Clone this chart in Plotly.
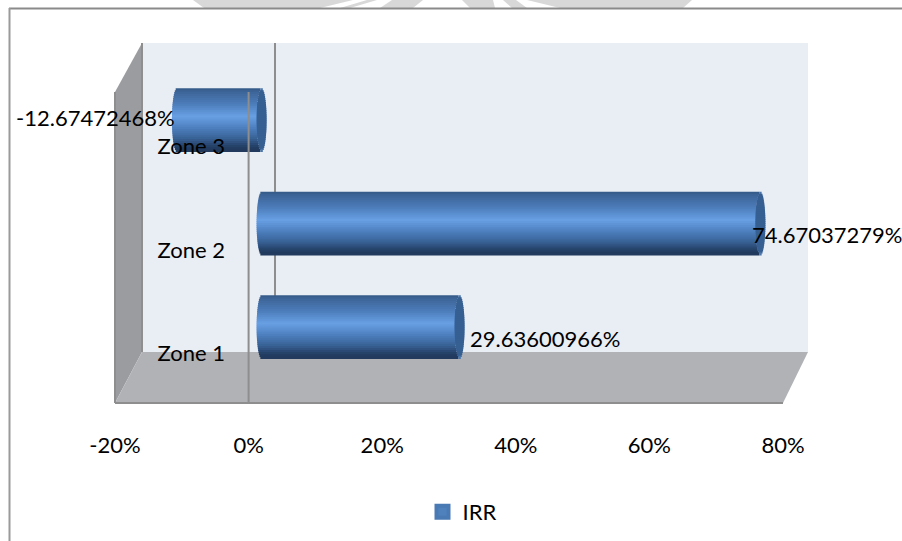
import numpy as np
import plotly.graph_objects as go

# Chart data
zones = ["Zone 1", "Zone 2", "Zone 3"]
irr_pct = [29.63600966, 74.67037279, -12.67472468]
irr_labels = ["29.63600966%", "74.67037279%", "-12.67472468%"]
axis_ticks = [-20, 0, 20, 40, 60, 80]

W, H = 902, 541
FONT = "Lato"
FONT_SIZE = 22


def px_x(v):
    return v / W


def px_y(v):
    return 1 - v / H


def poly(points, fill, line=None, width=0, layer="below"):
    # Closed polygon given in page pixels
    path = "M" + " L".join(f"{px_x(x):.5f},{px_y(y):.5f}" for x, y in points) + " Z"
    return dict(type="path", xref="paper", yref="paper", path=path, fillcolor=fill,
                line=dict(color=line or fill, width=width), layer=layer)


def seg(x0, y0, x1, y1, color="#8e8e8e", width=2, layer="below"):
    return dict(type="line", xref="paper", yref="paper", x0=px_x(x0), y0=px_y(y0),
                x1=px_x(x1), y1=px_y(y1), line=dict(color=color, width=width), layer=layer)


shapes = [
    # Faint seal showing above the chart frame
    poly([(193, 0), (204, 8), (320, 8), (353, 0)], "#d8d8d8"),
    poly([(340, 8), (350, 8), (377, 0), (367, 0)], "#d8d8d8"),
    poly([(380, 8), (413, 8), (423, 0), (392, 0)], "#d8d8d8"),
    poly([(462, 0), (470, 8), (495, 8), (493, 0)], "#d8d8d8"),
    poly([(503, 0), (512, 8), (527, 8), (516, 0)], "#d8d8d8"),
    poly([(527, 0), (560, 8), (683, 8), (692, 0)], "#d8d8d8"),
    # Chart frame (top and left)
    seg(9, 8.5, 902, 8.5, "#8a8a8a", 2),
    seg(9.5, 8, 9.5, 541, "#9a9a9a", 2),
    # 3D box: back wall, side wall, floor
    poly([(142, 43), (808, 43), (808, 352), (142, 352)], "#e9edf4"),
    poly([(115, 92), (142, 43), (142, 352), (115, 403)], "#9b9c9f"),
    poly([(142, 352), (808, 352), (783, 403), (115, 403)], "#b0b2b5"),
    seg(115, 92, 115, 403),
    seg(142, 43, 142, 352),
    # Zero line on the front plane, in front of the bars
    dict(type="line", xref="x3", yref="paper", x0=0, x1=0, y0=px_y(92), y1=px_y(403),
         line=dict(color="#8e8e8e", width=2), layer="above"),
]

# Vertical shading of the cylinders, top to bottom
stops = [0.0, 0.05, 0.25, 0.45, 0.62, 0.8, 0.93, 1.0]
stop_rgb = np.array([
    (52, 88, 134), (60, 100, 150), (76, 124, 186), (104, 160, 228),
    (80, 130, 194), (56, 98, 150), (36, 64, 102), (32, 56, 90),
], dtype=float)

N_STRIPS = 32
BAR_HEIGHT = 0.605       # in category units
CAP_HALF = 5 * 100 / 668  # cap half-width, axis units

fig = go.Figure()

# Keeps the back-wall plane in the figure so its zero gridline is drawn
fig.add_trace(go.Scatter(x=irr_pct, y=[0.5] * len(irr_pct), mode="none", xaxis="x", yaxis="y",
                         hoverinfo="skip", showlegend=False))

# Bar carrying the legend entry, hidden beneath the shaded strips
fig.add_trace(go.Bar(
    y=zones, x=[abs(v) for v in irr_pct], base=[min(v, 0) for v in irr_pct],
    orientation="h", width=0.3, name="IRR", xaxis="x2", yaxis="y2",
    marker=dict(color="#4f81bd", line=dict(color="#4a7ab4", width=4)),
    hoverinfo="skip", showlegend=True,
))

strip_h = BAR_HEIGHT / N_STRIPS
strip_w = strip_h * 1.6  # strips overlap downwards; the next one paints over the excess
for i in range(N_STRIPS):
    frac = (i + 0.5) / N_STRIPS
    rgb = [np.interp(frac, stops, stop_rgb[:, c]) for c in range(3)]
    color = f"rgb({rgb[0]:.0f},{rgb[1]:.0f},{rgb[2]:.0f})"
    t = 1 - 2 * frac
    half = CAP_HALF * np.sqrt(max(0.0, 1 - t * t))
    offset = t * BAR_HEIGHT / 2 + strip_h / 2 - strip_w

    lows = [min(v, 0) for v in irr_pct]
    highs = [max(v, 0) for v in irr_pct]
    # Cylinder body, with the rounded near end
    fig.add_trace(go.Bar(
        y=zones, x=[h - l for h, l in zip(highs, lows)], base=[l - half for l in lows],
        orientation="h", width=strip_w, offset=offset, xaxis="x2", yaxis="y2",
        marker=dict(color=color, line=dict(width=0)),
        hoverinfo="skip", showlegend=False,
    ))
    # Flat end cap of the cylinder
    cap_color = "#4a76ab" if abs(t) > 0.93 else "#365f92"
    fig.add_trace(go.Bar(
        y=zones, x=[2 * half] * len(zones), base=[h - half for h in highs],
        orientation="h", width=strip_w, offset=offset, xaxis="x2", yaxis="y2",
        marker=dict(color=cap_color, line=dict(width=0)),
        hoverinfo="skip", showlegend=False,
    ))

# Invisible trace that keeps the labelled axes alive above the bars
fig.add_trace(go.Scatter(x=irr_pct, y=zones, mode="none", xaxis="x3", yaxis="y3",
                         hoverinfo="skip", showlegend=False))

# Value labels sit beside the bar ends
label_pos = [
    dict(xanchor="left", xshift=3, yshift=-12),
    dict(xanchor="left", xshift=-15, yshift=-11),
    dict(xanchor="right", xshift=0, yshift=2),
]
annotations = [
    dict(x=v + (CAP_HALF if v > 0 else 0), y=z, xref="x2", yref="y2", text=t, showarrow=False,
         font=dict(family=FONT, size=FONT_SIZE, color="black"), **p)
    for v, z, t, p in zip(irr_pct, zones, irr_labels, label_pos)
]

fig.update_layout(
    width=W, height=H, margin=dict(l=0, r=0, t=0, b=0, autoexpand=False),
    paper_bgcolor="white", plot_bgcolor="rgba(0,0,0,0)",
    barmode="overlay", shapes=shapes, annotations=annotations,
    font=dict(family=FONT, size=FONT_SIZE, color="black"),
    # Back-wall plane: only the zero gridline shows
    xaxis=dict(domain=[px_x(142), px_x(808)], range=[-20, 80], anchor="y",
               tickvals=[0], showticklabels=False, ticks="", showgrid=True,
               gridcolor="#8e8e8e", gridwidth=2, zeroline=False),
    yaxis=dict(domain=[px_y(352), px_y(43)], range=[0, 1], anchor="x", visible=False),
    # Plane the bars stand on
    xaxis2=dict(domain=[px_x(128), px_x(796)], range=[-20, 80], anchor="y2", visible=False),
    yaxis2=dict(domain=[px_y(378.25), px_y(67.75)], type="category", categoryorder="array",
                categoryarray=zones, range=[-0.5, 2.5], anchor="x2", visible=False),
    # Front plane holding the axis labels
    xaxis3=dict(domain=[px_x(115), px_x(783)], range=[-20, 80], anchor="free", position=px_y(403),
                tickvals=axis_ticks, ticktext=[f"{t}%" for t in axis_ticks],
                ticks="outside", ticklen=23, tickcolor="rgba(0,0,0,0)",
                showgrid=False, zeroline=False, showline=True, linecolor="#8e8e8e", linewidth=2),
    yaxis3=dict(domain=[px_y(405.5), px_y(94.5)], type="category", categoryorder="array",
                categoryarray=zones, range=[-0.5, 2.5], anchor="free", position=px_x(225),
                showgrid=False, zeroline=False, showline=False, ticks=""),
    legend=dict(x=px_x(422.5), y=px_y(512), xanchor="left", yanchor="middle",
                orientation="h", bgcolor="rgba(0,0,0,0)",
                font=dict(family=FONT, size=FONT_SIZE), itemwidth=30),
)

fig.write_html("out.html", config=dict(displayModeBar=False))
